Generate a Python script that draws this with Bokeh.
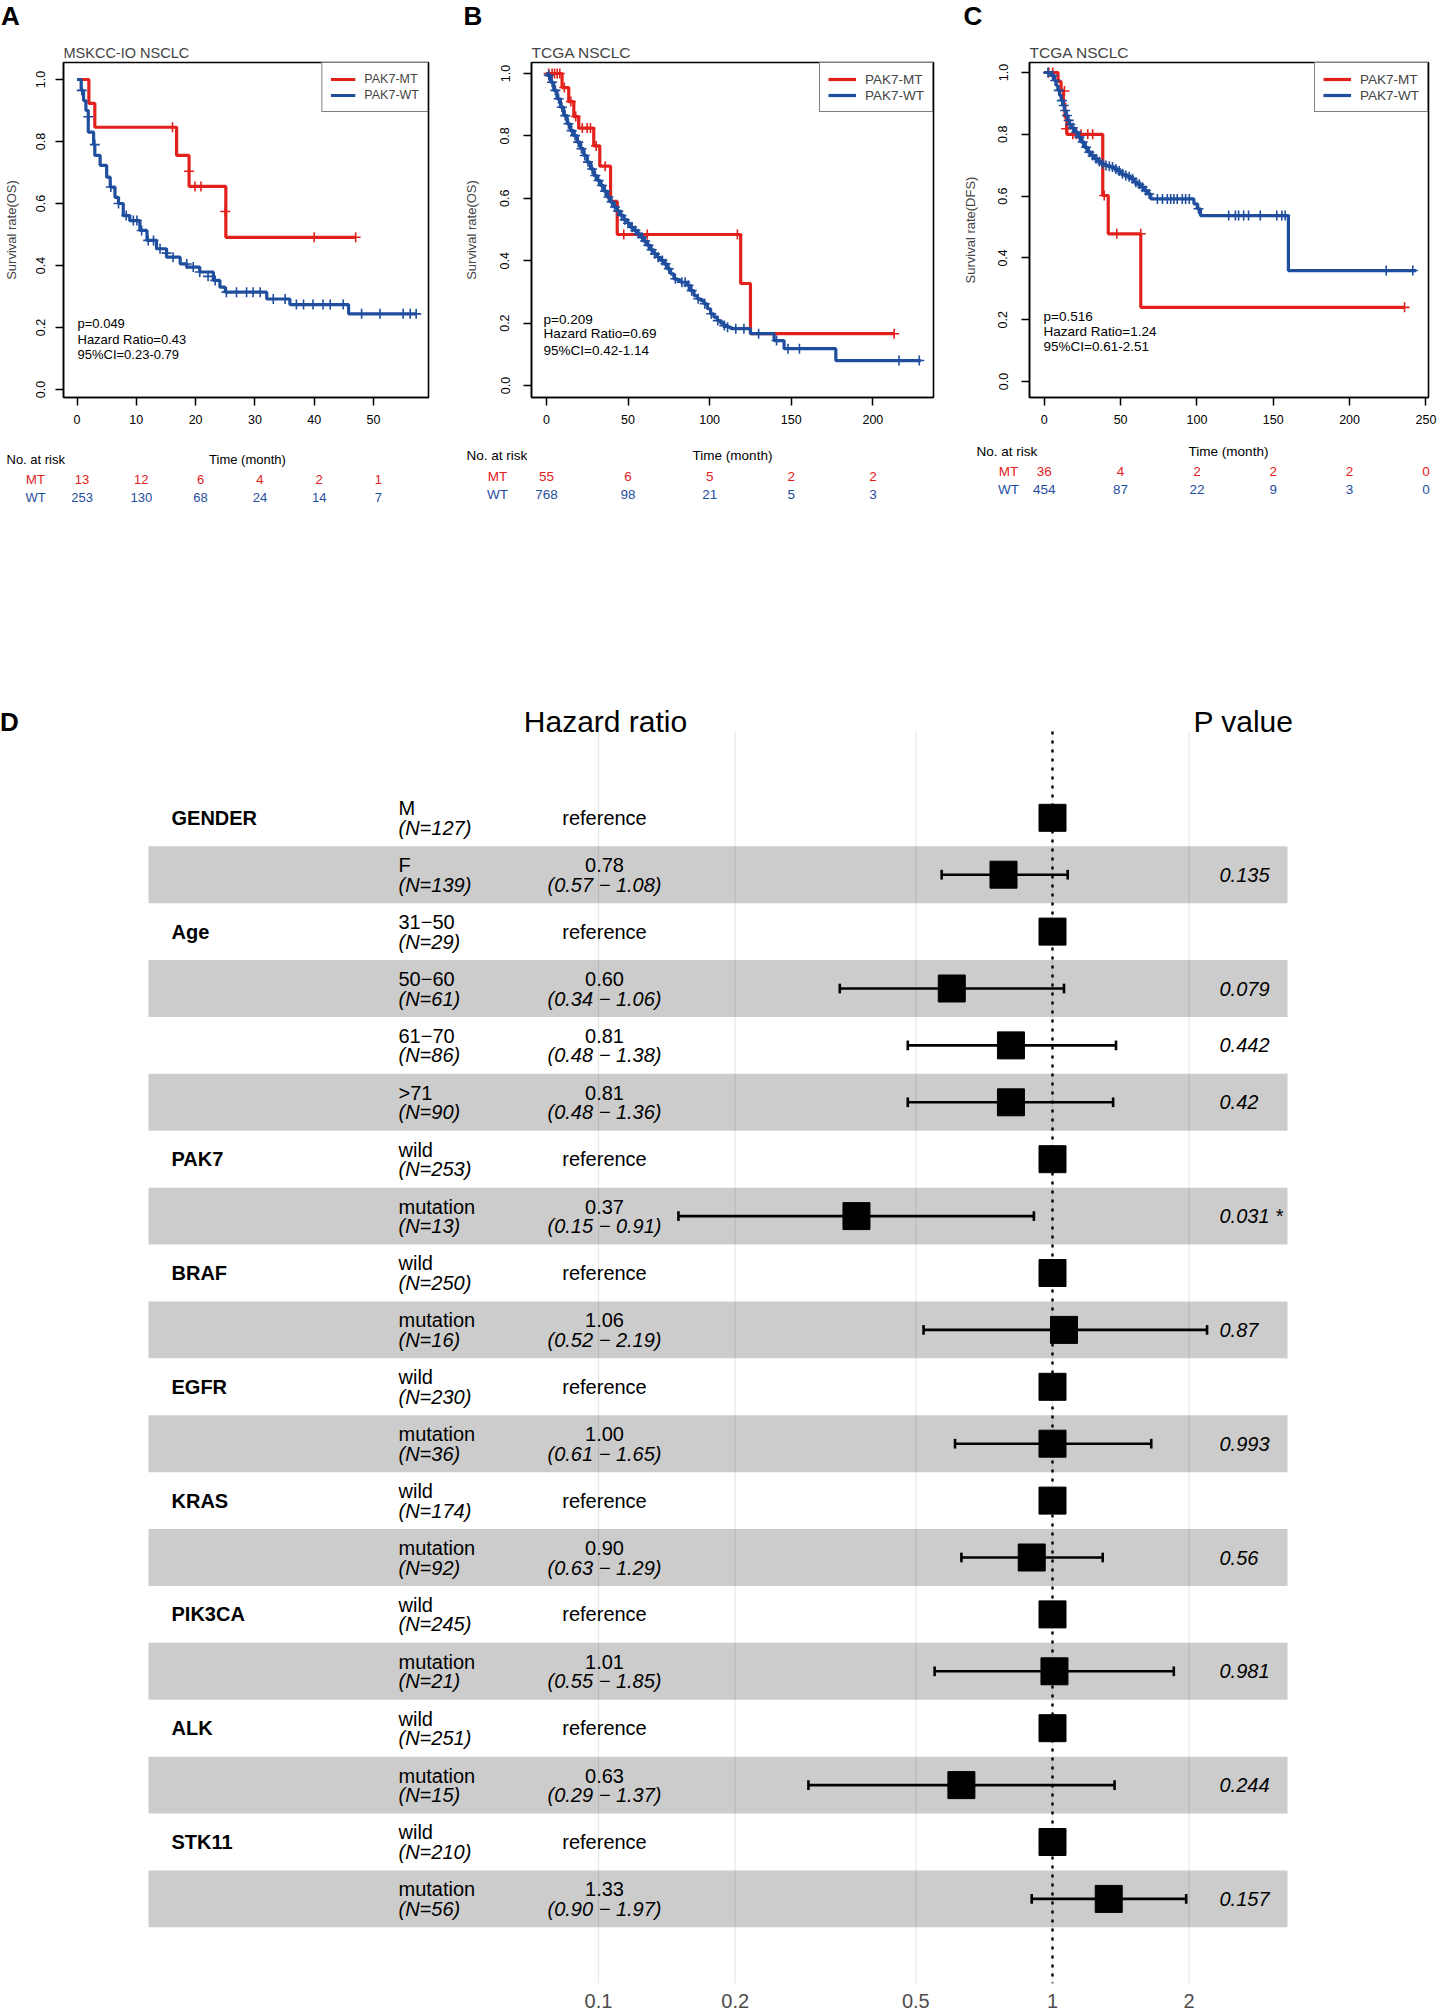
from bokeh.plotting import figure
from bokeh.models import (Range1d, FixedTicker, PrintfTickFormatter, NumeralTickFormatter)
from bokeh.layouts import column, row
from bokeh.embed import file_html
from bokeh.resources import INLINE
from bokeh.core.properties import value

FONT = "Liberation Sans"
RED = "#E3211C"
BLUE = "#1F4E9E"

# ---------------- Panel A data (MSKCC-IO NSCLC, OS) ----------------
A_mt_t = [0, 2.0, 3.0, 16.8, 18.9, 25.1, 47.0]
A_mt_s = [1.0, 0.923, 0.846, 0.755, 0.655, 0.491, 0.491]
A_mt_ct = [16.1, 18.9, 19.9, 20.9, 25.0, 40.0, 47.0]
A_mt_cs = [0.846, 0.704, 0.655, 0.655, 0.574, 0.491, 0.491]
A_wt_t = [0, 0.7, 1.1, 1.5, 1.9, 2.8, 3.0, 3.9, 5.0, 5.6, 6.4, 7.0, 7.8, 8.9, 10.6, 11.8, 13.4,
          15.1, 17.4, 18.5, 20.7, 23.0, 24.1, 25.0, 32.0, 35.9, 45.8, 57.2]
A_wt_s = [1.0, 0.965, 0.932, 0.90, 0.83, 0.79, 0.755, 0.723, 0.685, 0.653, 0.62, 0.60, 0.561,
          0.545, 0.513, 0.481, 0.454, 0.427, 0.405, 0.395, 0.379, 0.352, 0.33, 0.314, 0.292,
          0.274, 0.244, 0.244]
A_wt_ct = [0.8, 1.9, 3.0, 5.7, 7.0, 8.3, 9.5, 10.1, 10.9, 12.0, 12.9, 14.0, 15.1, 16.2, 18.5,
           19.6, 20.7, 22.1, 23.3, 25.2, 26.9, 28.6, 29.7, 30.9, 33.1, 35.1, 37.0, 38.2, 39.8,
           41.5, 42.7, 44.9, 48.0, 51.1, 55.0, 56.2, 57.2]
A_wt_cs = [0.965, 0.88, 0.79, 0.653, 0.60, 0.561, 0.545, 0.545, 0.513, 0.481, 0.481, 0.454,
           0.44, 0.427, 0.405, 0.395, 0.379, 0.365, 0.352, 0.314, 0.314, 0.314, 0.314, 0.314,
           0.292, 0.292, 0.274, 0.274, 0.274, 0.274, 0.274, 0.274, 0.244, 0.244, 0.244, 0.244,
           0.244]
A_stats = ["p=0.049", "Hazard Ratio=0.43", "95%CI=0.23-0.79"]
A_risk_t = [0, 10, 20, 30, 40, 50]
A_risk_mt = [13, 12, 6, 4, 2, 1]
A_risk_wt = [253, 130, 68, 24, 14, 7]

# ---------------- Panel B data (TCGA NSCLC, OS) ----------------
B_mt_t = [0, 9.6, 13.7, 16.8, 19.8, 29.0, 32.7, 39.3, 43.4, 119.0, 125.0, 213.0]
B_mt_s = [1.0, 0.955, 0.91, 0.862, 0.825, 0.768, 0.703, 0.59, 0.484, 0.327, 0.166, 0.166]
B_mt_ct = [1.4, 3.5, 5.0, 6.6, 8.2, 11.0, 15.0, 18.0, 22.0, 25.0, 27.0, 30.5, 36.0, 47.4, 61.8,
           117.0, 213.0]
B_mt_cs = [1.0, 1.0, 1.0, 1.0, 1.0, 0.955, 0.91, 0.862, 0.825, 0.825, 0.825, 0.768, 0.703,
           0.484, 0.484, 0.484, 0.166]
B_wt_t = [0, 0.4, 2.45, 4.5, 6.5, 8.6, 10.6, 12.7, 14.7, 16.8, 18.8, 20.9, 22.9, 24.9, 27.0,
          29.0, 31.1, 33.1, 35.2, 37.2, 39.3, 41.3, 43.4, 45.4, 47.4, 49.5, 51.5, 53.6, 55.6,
          57.7, 59.7, 61.8, 63.8, 65.8, 67.9, 69.9, 72.0, 74.0, 76.1, 78.1, 80.2, 82.2, 86.3,
          88.3, 90.4, 92.4, 94.5, 96.5, 98.6, 100.6, 102.6, 104.7, 106.7, 108.8, 110.8, 112.9,
          125.0, 139.5, 145.6, 177.3, 229.4]
B_wt_s = [1.0, 0.994, 0.972, 0.946, 0.919, 0.892, 0.865, 0.839, 0.817, 0.801, 0.78, 0.759,
          0.737, 0.716, 0.694, 0.673, 0.657, 0.641, 0.623, 0.604, 0.588, 0.572, 0.559, 0.545,
          0.531, 0.52, 0.507, 0.497, 0.486, 0.475, 0.463, 0.449, 0.435, 0.422, 0.411, 0.401,
          0.39, 0.374, 0.358, 0.342, 0.337, 0.331, 0.321, 0.304, 0.288, 0.278, 0.272, 0.262,
          0.246, 0.23, 0.219, 0.208, 0.2, 0.192, 0.187, 0.182, 0.166, 0.144, 0.118, 0.08, 0.08]
B_wt_ct = [1.5, 3.5, 5.5, 7.5, 9.5, 11.5, 13.5, 15.5, 17.5, 19.5, 21.5, 23.5, 25.5, 28.0, 30.0,
           32.0, 34.0, 36.0, 38.0, 40.0, 42.0, 44.0, 46.0, 48.0, 50.0, 52.5, 54.5, 56.5, 58.5,
           60.5, 62.5, 64.5, 66.5, 68.5, 71.0, 73.0, 75.0, 79.0, 83.0, 85.0, 87.0, 89.0, 93.0,
           97.0, 101.0, 105.0, 109.0, 111.0, 116.0, 121.0, 130.0, 141.0, 148.0, 155.0, 216.0,
           228.4]
B_wt_cs = [0.994, 0.972, 0.946, 0.919, 0.892, 0.865, 0.839, 0.817, 0.801, 0.78, 0.759, 0.737,
           0.716, 0.694, 0.673, 0.657, 0.641, 0.623, 0.604, 0.588, 0.572, 0.559, 0.545, 0.531,
           0.52, 0.507, 0.497, 0.486, 0.475, 0.463, 0.449, 0.435, 0.422, 0.411, 0.401, 0.39,
           0.374, 0.342, 0.331, 0.331, 0.321, 0.304, 0.278, 0.262, 0.23, 0.208, 0.192, 0.187,
           0.182, 0.182, 0.166, 0.144, 0.118, 0.118, 0.08, 0.08]
B_stats = ["p=0.209", "Hazard Ratio=0.69", "95%CI=0.42-1.14"]
B_risk_t = [0, 50, 100, 150, 200]
B_risk_mt = [55, 6, 5, 2, 2]
B_risk_wt = [768, 98, 21, 5, 3]

# ---------------- Panel C data (TCGA NSCLC, DFS) ----------------
C_mt_t = [0, 9.0, 11.0, 12.5, 13.5, 14.8, 38.3, 41.9, 63.2, 236.0]
C_mt_s = [1.0, 0.971, 0.942, 0.9, 0.855, 0.80, 0.602, 0.478, 0.24, 0.24]
C_mt_ct = [3.0, 5.5, 13.2, 14.3, 18.7, 21.0, 24.1, 28.5, 31.7, 39.3, 47.5, 63.2, 236.0]
C_mt_cs = [1.0, 1.0, 0.94, 0.818, 0.80, 0.80, 0.80, 0.80, 0.80, 0.602, 0.478, 0.478, 0.24]
C_wt_t = [0, 4.6, 6.7, 7.8, 8.9, 10.0, 11.1, 12.2, 13.2, 14.3, 15.4, 16.5, 17.6, 19.8, 22.0,
          24.1, 26.3, 28.5, 30.6, 32.8, 35.0, 37.2, 39.3, 41.5, 43.7, 45.8, 48.0, 50.2, 52.3,
          54.6, 56.7, 58.9, 61.1, 63.2, 65.4, 67.6, 69.8, 98.0, 100.2, 102.3, 159.9, 243.6]
C_wt_s = [1.0, 0.99, 0.974, 0.958, 0.942, 0.926, 0.909, 0.893, 0.877, 0.861, 0.845, 0.832,
          0.821, 0.807, 0.791, 0.775, 0.758, 0.742, 0.731, 0.721, 0.712, 0.704, 0.699, 0.697,
          0.694, 0.688, 0.681, 0.672, 0.667, 0.663, 0.656, 0.645, 0.638, 0.629, 0.618, 0.607,
          0.591, 0.575, 0.559, 0.537, 0.359, 0.359]
C_wt_ct = [2.4, 5.5, 7.2, 9.5, 11.5, 12.7, 13.7, 14.8, 16.0, 17.0, 18.7, 21.0, 23.0, 25.2, 27.4,
           29.5, 31.7, 33.9, 36.1, 38.2, 40.4, 42.6, 44.7, 46.9, 49.1, 51.2, 53.4, 55.6, 57.8,
           60.0, 62.2, 64.3, 66.5, 68.7, 74.1, 77.4, 80.6, 82.8, 84.9, 87.1, 90.4, 92.6, 95.0,
           101.0, 120.8, 125.2, 127.3, 130.6, 133.8, 141.5, 152.3, 155.6, 157.8, 224.0, 241.4]
C_wt_cs = [1.0, 0.99, 0.974, 0.942, 0.909, 0.893, 0.877, 0.861, 0.845, 0.832, 0.821, 0.807,
           0.791, 0.775, 0.758, 0.742, 0.731, 0.721, 0.712, 0.704, 0.699, 0.697, 0.694, 0.688,
           0.681, 0.672, 0.667, 0.663, 0.656, 0.645, 0.638, 0.629, 0.618, 0.607, 0.591, 0.591,
           0.591, 0.591, 0.591, 0.591, 0.591, 0.591, 0.591, 0.559, 0.537, 0.537, 0.537, 0.537,
           0.537, 0.537, 0.537, 0.537, 0.537, 0.359, 0.359]
C_stats = ["p=0.516", "Hazard Ratio=1.24", "95%CI=0.61-2.51"]
C_risk_t = [0, 50, 100, 150, 200, 250]
C_risk_mt = [36, 4, 2, 2, 2, 0]
C_risk_wt = [454, 87, 22, 9, 3, 0]

LEGEND_LABELS = ["PAK7-MT", "PAK7-WT"]
RISK_GROUPS = ["MT", "WT"]
PANEL_LETTERS = ["A", "B", "C"]

# ---------------- Panel D data (forest plot) ----------------
F_group = ["GENDER", "", "Age", "", "", "", "PAK7", "", "BRAF", "", "EGFR", "", "KRAS", "",
           "PIK3CA", "", "ALK", "", "STK11", ""]
F_level = ["M", "F", "31\u221250", "50\u221260", "61\u221270", ">71", "wild", "mutation", "wild",
           "mutation", "wild", "mutation", "wild", "mutation", "wild", "mutation", "wild",
           "mutation", "wild", "mutation"]
F_n = [127, 139, 29, 61, 86, 90, 253, 13, 250, 16, 230, 36, 174, 92, 245, 21, 251, 15, 210, 56]
F_hr = [1.0, 0.78, 1.0, 0.60, 0.81, 0.81, 1.0, 0.37, 1.0, 1.06, 1.0, 1.00, 1.0, 0.90, 1.0, 1.01,
        1.0, 0.63, 1.0, 1.33]
F_lo = [None, 0.57, None, 0.34, 0.48, 0.48, None, 0.15, None, 0.52, None, 0.61, None, 0.63,
        None, 0.55, None, 0.29, None, 0.90]
F_hi = [None, 1.08, None, 1.06, 1.38, 1.36, None, 0.91, None, 2.19, None, 1.65, None, 1.29,
        None, 1.85, None, 1.37, None, 1.97]
F_p = ["", "0.135", "", "0.079", "0.442", "0.42", "", "0.031 *", "", "0.87", "", "0.993", "",
       "0.56", "", "0.981", "", "0.244", "", "0.157"]
F_ticks = [0.1, 0.2, 0.5, 1, 2]

# ---------------- page geometry (pixels) ----------------
W = 1437
STRIP_H = 30
KM_TOP, KM_BOT = 30, 440
RISK_TOP, RISK_BOT = 440, 510
FR_T, FR_B = 62, 397          # common KM frame top / bottom


def blank(fig):
    fig.grid.visible = False
    fig.outline_line_color = None
    fig.background_fill_color = "white"
    fig.border_fill_color = "white"


def km_panel(fig_x, fig_w, fl, fr, x_range, y_ticks_px, xticks, title, ylabel, mt, wt,
             stats, stats_page, fs, leg, ystand):
    x0, x1 = x_range
    t1, t0 = y_ticks_px            # pixel of S=1 and S=0
    pxu = t0 - t1
    y_end = 1 + (t1 - FR_T) / pxu
    y_start = -(FR_B - t0) / pxu

    def X(px):
        return x0 + (px - fl) * (x1 - x0) / (fr - fl)

    def Y(py):
        return (t0 - py) / pxu

    p = figure(width=fig_w, height=KM_BOT - KM_TOP, x_range=Range1d(x0, x1),
               y_range=Range1d(y_start, y_end),
               output_backend="svg", toolbar_location=None, title=title,
               min_border_left=fl - fig_x, min_border_right=fig_x + fig_w - fr,
               min_border_top=FR_T - KM_TOP, min_border_bottom=KM_BOT - FR_B)
    p.title.text_font = FONT
    p.title.text_font_size = fs["title"]
    p.title.text_font_style = "normal"
    p.title.align = "left"
    p.title.standoff = 3
    p.grid.visible = False
    p.outline_line_color = "black"
    p.outline_line_width = 1.6
    p.background_fill_color = "white"
    p.border_fill_color = "white"

    (mt_t, mt_s, mt_ct, mt_cs) = mt
    (wt_t, wt_s, wt_ct, wt_cs) = wt
    p.step(mt_t, mt_s, mode="after", line_color=RED, line_width=3.2, legend_label=LEGEND_LABELS[0])
    p.scatter(mt_ct, mt_cs, marker="cross", size=10, line_color=RED, line_width=1.6)
    p.step(wt_t, wt_s, mode="after", line_color=BLUE, line_width=3.2, legend_label=LEGEND_LABELS[1])
    p.scatter(wt_ct, wt_cs, marker="cross", size=10, line_color=BLUE, line_width=1.6)

    p.xaxis.ticker = FixedTicker(ticks=xticks)
    p.yaxis.ticker = FixedTicker(ticks=[0, 0.2, 0.4, 0.6, 0.8, 1.0])
    p.yaxis.formatter = PrintfTickFormatter(format="%.1f")
    p.yaxis.major_label_orientation = "vertical"
    for ax in (p.xaxis[0], p.yaxis[0]):
        ax.major_tick_out = 8
        ax.major_tick_in = 0
        ax.minor_tick_line_color = None
        ax.major_tick_line_width = 1.5
        ax.axis_line_width = 1.5
        ax.axis_line_color = "black"
        ax.major_label_text_font = FONT
        ax.major_label_text_font_size = fs["tick"]
        ax.major_label_text_color = "black"
    p.xaxis.major_label_standoff = 9
    p.yaxis.major_label_standoff = ystand[0]
    p.yaxis.axis_label = ylabel
    p.yaxis.axis_label_text_font = FONT
    p.yaxis.axis_label_text_font_size = fs["axis"]
    p.yaxis.axis_label_text_font_style = "normal"
    p.yaxis.axis_label_standoff = ystand[1]

    lg = p.legend[0]
    lg.location = "top_right"
    lg.margin = 0
    lg.padding = leg["padding"]
    lg.spacing = 0
    lg.glyph_width = leg["glyph_width"]
    lg.glyph_height = 16
    lg.label_height = 16
    lg.label_standoff = leg["standoff"]
    lg.label_text_font = FONT
    lg.label_text_font_size = fs["legend"]
    lg.border_line_color = "black"
    lg.border_line_width = 1.4
    lg.background_fill_alpha = 1.0

    sx, sys_ = stats_page
    p.text(x=[X(sx)] * 3, y=[Y(v) for v in sys_], text=stats, text_font=value(FONT),
           text_font_size=fs["stats"], text_align="left", text_baseline="middle",
           text_color="black")
    return p, X


def risk_panel(fig_x, fig_w, X, risk, rows_px, fs, ndx):
    r_t, r_mt, r_wt = risk
    hy, my, wy, noat_x, time_x, grp_x = rows_px
    r = figure(width=fig_w, height=RISK_BOT - RISK_TOP,
               x_range=Range1d(X(fig_x), X(fig_x + fig_w)),
               y_range=Range1d(RISK_BOT, RISK_TOP), output_backend="svg",
               toolbar_location=None, x_axis_location=None, y_axis_location=None,
               min_border_left=0, min_border_right=0, min_border_top=0, min_border_bottom=0)
    blank(r)
    common = dict(text_font=value(FONT), text_font_size=fs, text_baseline="middle")
    r.text(x=[X(noat_x)], y=[hy], text=["No. at risk"], text_align="left",
           text_color="black", **common)
    r.text(x=[X(time_x)], y=[hy], text=["Time (month)"], text_align="center",
           text_color="black", **common)
    for gname, yy, col, vals in ((RISK_GROUPS[0], my, RED, r_mt), (RISK_GROUPS[1], wy, BLUE, r_wt)):
        r.text(x=[X(grp_x)], y=[yy], text=[gname], text_align="center", text_color=col, **common)
        r.text(x=r_t, y=[yy] * len(r_t), text=[str(v) for v in vals], x_offset=ndx,
               text_align="center", text_color=col, **common)
    return r


fsA = dict(title="14.5px", tick="12.5px", axis="13px", legend="12.5px", stats="13px")
fsB = dict(title="15.5px", tick="12.5px", axis="13px", legend="13.5px", stats="13.5px")

pA, XA = km_panel(0, 455, 63, 428, (-2.28, 59.28), (79, 389), [0, 10, 20, 30, 40, 50],
                  "MSKCC-IO NSCLC", "Survival rate(OS)",
                  (A_mt_t, A_mt_s, A_mt_ct, A_mt_cs), (A_wt_t, A_wt_s, A_wt_ct, A_wt_cs),
                  A_stats, (77, [323, 339, 354]), fsA,
                  dict(padding=8, glyph_width=25, standoff=9), (11, 14))
pB, XB = km_panel(455, 495, 531, 933, (-9.12, 237.12), (73, 385), [0, 50, 100, 150, 200],
                  "TCGA NSCLC", "Survival rate(OS)",
                  (B_mt_t, B_mt_s, B_mt_ct, B_mt_cs), (B_wt_t, B_wt_s, B_wt_ct, B_wt_cs),
                  B_stats, (543, [319, 333, 350]), fsB,
                  dict(padding=8, glyph_width=28, standoff=9), (14, 19))
pC, XC = km_panel(950, 487, 1029, 1428, (-9.68, 251.68), (72, 381), [0, 50, 100, 150, 200, 250],
                  "TCGA NSCLC", "Survival rate(DFS)",
                  (C_mt_t, C_mt_s, C_mt_ct, C_mt_cs), (C_wt_t, C_wt_s, C_wt_ct, C_wt_cs),
                  C_stats, (1043, [316, 331, 346]), fsB,
                  dict(padding=8, glyph_width=28, standoff=9), (14, 18))

rA = risk_panel(0, 455, XA, (A_risk_t, A_risk_mt, A_risk_wt), (459, 479, 497, 6, 247, 35),
                "13px", 5)
rB = risk_panel(455, 495, XB, (B_risk_t, B_risk_mt, B_risk_wt), (455, 476, 494, 466, 732, 497),
                "13.5px", 0)
rC = risk_panel(950, 487, XC, (C_risk_t, C_risk_mt, C_risk_wt), (451, 471, 489, 976, 1228, 1008),
                "13.5px", 0)

# panel letters strip
strip = figure(width=W, height=STRIP_H, x_range=Range1d(0, W), y_range=Range1d(STRIP_H, 0),
               output_backend="svg", toolbar_location=None, x_axis_location=None,
               y_axis_location=None, min_border_left=0, min_border_right=0, min_border_top=0,
               min_border_bottom=0)
blank(strip)
strip.text(x=[10, 472.5, 972.5], y=[15, 15, 15], text=PANEL_LETTERS, text_font=value(FONT),
           text_font_size="26px", text_font_style="bold", text_align="center",
           text_baseline="middle", text_color="black")

# ---------------- Forest plot ----------------
ROW0 = 817.3
ROWH = 56.9
D_TOP = 510
D_H = 1500
GRID_T, FB = 731, 1983
BAND_L, BAND_R = 148, 1287


def FX(px):
    return 10 ** ((px - 1052) / 454.0)


def FY(py):
    return (py - ROW0) / ROWH


pD = figure(width=W, height=D_H, x_axis_type="log",
            x_range=Range1d(FX(0), FX(W)), y_range=Range1d(FY(FB), FY(D_TOP)),
            output_backend="svg", toolbar_location=None, y_axis_location=None,
            min_border_left=0, min_border_right=0, min_border_top=0,
            min_border_bottom=D_TOP + D_H - FB)
blank(pD)

rows = list(range(len(F_level)))
band_rows = [r for r in rows if r % 2 == 1]
pD.quad(left=FX(BAND_L), right=FX(BAND_R), top=[r - 0.5 for r in band_rows],
        bottom=[r + 0.5 for r in band_rows], fill_color="#CCCCCC", line_color=None)

# vertical reference lines at the axis ticks
pD.segment(x0=F_ticks, x1=F_ticks, y0=FY(GRID_T), y1=FY(FB), line_color="black",
           line_alpha=0.09, line_width=1.2)
pD.segment(x0=[1], x1=[1], y0=FY(GRID_T), y1=FY(FB), line_color="black", line_width=2.4,
           line_dash="3 6")

pD.xaxis.ticker = FixedTicker(ticks=F_ticks)
pD.xaxis.formatter = NumeralTickFormatter(format="0.[0]")
pD.xaxis.axis_line_color = None
pD.xaxis.major_tick_line_color = None
pD.xaxis.minor_tick_line_color = None
pD.xaxis.major_label_text_font = FONT
pD.xaxis.major_label_text_font_size = "20px"
pD.xaxis.major_label_text_color = "#4D4D4D"
pD.xaxis.major_label_standoff = 4

ci_rows = [r for r in rows if F_lo[r] is not None]
lo = [F_lo[r] for r in ci_rows]
hi = [F_hi[r] for r in ci_rows]
pD.segment(x0=lo, x1=hi, y0=ci_rows, y1=ci_rows, line_color="black", line_width=2.6)
pD.segment(x0=lo, x1=lo, y0=[r - 0.085 for r in ci_rows], y1=[r + 0.085 for r in ci_rows],
           line_color="black", line_width=2.6)
pD.segment(x0=hi, x1=hi, y0=[r - 0.085 for r in ci_rows], y1=[r + 0.085 for r in ci_rows],
           line_color="black", line_width=2.6)
pD.scatter(x=F_hr, y=rows, marker="square", size=27, fill_color="black", line_color="black")

TXT = dict(text_font=value(FONT), text_font_size="20px", text_baseline="middle",
           text_color="black")
g_rows = [r for r in rows if F_group[r]]
pD.text(x=[FX(171)] * len(g_rows), y=g_rows, text=[F_group[r] for r in g_rows],
        text_align="left", text_font_style="bold", **TXT)
pD.text(x=[FX(398)] * len(rows), y=[r - 0.167 for r in rows], text=F_level,
        text_align="left", **TXT)
pD.text(x=[FX(398)] * len(rows), y=[r + 0.176 for r in rows],
        text=["(N=%d)" % n for n in F_n], text_align="left", text_font_style="italic", **TXT)
ref_rows = [r for r in rows if F_lo[r] is None]
pD.text(x=[FX(604)] * len(ref_rows), y=ref_rows, text=["reference"] * len(ref_rows),
        text_align="center", **TXT)
pD.text(x=[FX(604)] * len(ci_rows), y=[r - 0.167 for r in ci_rows],
        text=["%.2f" % F_hr[r] for r in ci_rows], text_align="center", **TXT)
pD.text(x=[FX(604)] * len(ci_rows), y=[r + 0.176 for r in ci_rows],
        text=["(%.2f \u2212 %.2f)" % (F_lo[r], F_hi[r]) for r in ci_rows],
        text_align="center", text_font_style="italic", **TXT)
p_rows = [r for r in rows if F_p[r]]
pD.text(x=[FX(1219)] * len(p_rows), y=p_rows, text=[F_p[r] for r in p_rows],
        text_align="left", text_font_style="italic", **TXT)

HDR = dict(text_font=value(FONT), text_baseline="middle", text_color="black",
           text_align="center")
pD.text(x=[FX(605), FX(1243)], y=[FY(721), FY(721)], text=["Hazard ratio", "P value"],
        text_font_size="30px", **HDR)
pD.text(x=[FX(9)], y=[FY(721)], text=["D"], text_font_size="26px", text_font_style="bold",
        **HDR)

layout = column(strip, row(pA, pB, pC), row(rA, rB, rC), pD)
open("out.html", "w").write(file_html(layout, INLINE))
